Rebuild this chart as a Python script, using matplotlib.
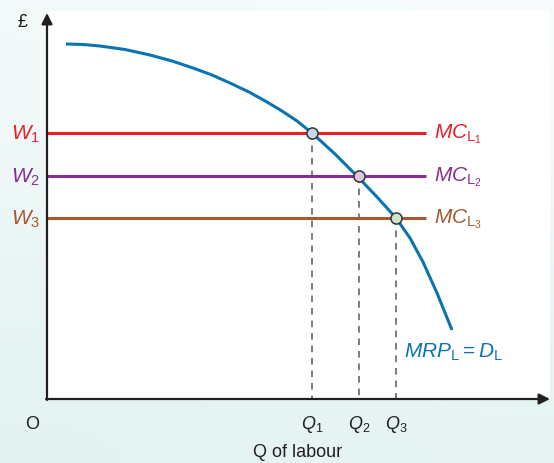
import numpy as np
import matplotlib
matplotlib.use('Agg')
from matplotlib import pyplot as plt

plt.rcParams['font.family'] = 'Liberation Sans'
plt.rcParams['mathtext.fontset'] = 'custom'
plt.rcParams['mathtext.it'] = 'Liberation Sans:italic'
plt.rcParams['mathtext.rm'] = 'Liberation Sans'

# MRP_L curve (x = labour, y = £)
curve_x = [19, 36, 53, 78, 103, 125, 146, 165, 183, 202, 220, 235, 250, 265, 288, 310, 330, 349, 363, 376, 390, 405]
curve_y = [355, 354.5, 353, 349.5, 344, 338, 331, 324, 316, 307, 297, 288, 278, 266, 245, 223, 202, 181, 161, 137, 106, 69]

wages = [266, 223, 181]
quantities = [265, 312, 349]
wage_labels = [r'$W_{\mathrm{1}}$', r'$W_{\mathrm{2}}$', r'$W_{\mathrm{3}}$']
mc_labels = [r'$MC_{\mathrm{L}_{\mathrm{1}}}$', r'$MC_{\mathrm{L}_{\mathrm{2}}}$',
             r'$MC_{\mathrm{L}_{\mathrm{3}}}$']
q_labels = [r'$Q_{\mathrm{1}}$', r'$Q_{\mathrm{2}}$', r'$Q_{\mathrm{3}}$']
mc_end = 379

line_cols = ['#e8202a', '#8c2d91', '#a65a2e']
dot_cols = ['#c6d7ea', '#dbc8e0', '#cbe5cf']
blue = '#0a74b0'

fig = plt.figure(figsize=(5.54, 4.64), dpi=100)

# pale mint background
bg = fig.add_axes([0, 0, 1, 1], zorder=-5)
grad = np.array([[[0.955, 0.982, 0.982], [0.975, 0.99, 0.99]],
                 [[0.89, 0.95, 0.945], [0.90, 0.955, 0.95]]])
bg.imshow(grad, aspect='auto', interpolation='bicubic', extent=[0, 1, 0, 1])
bg.axis('off')

ax = fig.add_axes([47/554, 64/464, 503/554, 388/464])
ax.set_facecolor('white')
ax.set_xlim(0, 503)
ax.set_ylim(0, 388)
for s in ax.spines.values():
    s.set_visible(False)
ax.set_xticks([])
ax.set_yticks([])

# axes with arrows
ax.annotate('', xy=(0, 386), xytext=(0, -1), annotation_clip=False,
            arrowprops=dict(arrowstyle='-|>', lw=1.6, color='#231f20', mutation_scale=16, shrinkA=0, shrinkB=0))
ax.annotate('', xy=(503, 0), xytext=(-1, 0), annotation_clip=False,
            arrowprops=dict(arrowstyle='-|>', lw=1.6, color='#231f20', mutation_scale=16, shrinkA=0, shrinkB=0))

for w, q, wl, ml, ql, c in zip(wages, quantities, wage_labels, mc_labels, q_labels, line_cols):
    ax.plot([0, mc_end], [w, w], color=c, lw=2.2, solid_capstyle='butt', zorder=2)
    ax.plot([q, q], [w, 0], color='#666666', lw=1.2, ls=(0, (4, 3.5)), zorder=1)
    ax.text(-7, w, wl, color=c, fontsize=15, ha='right', va='center')
    ax.text(mc_end + 8, w, ml, color=c, fontsize=15, ha='left', va='center')
    ax.text(q, -25, ql, color='#231f20', fontsize=13, ha='center', va='center')

ax.plot(curve_x, curve_y, color=blue, lw=2.2, zorder=3, solid_capstyle='butt', solid_joinstyle='round')

for w, q, dc in zip(wages, quantities, dot_cols):
    ax.plot(q, w, 'o', ms=8, mfc=dc, mec='#333333', mew=1.1, zorder=4)

ax.text(357, 48, r'$MRP_{\mathrm{L}} = D_{\mathrm{L}}$', color=blue, fontsize=15, ha='left', va='center')
ax.text(-15, -25, 'O', color='#231f20', fontsize=13, ha='center', va='center')
ax.text(251, -53, 'Q of labour', color='#231f20', fontsize=13, ha='center', va='center')
ax.text(-25, 378, '£', color='#231f20', fontsize=13, ha='center', va='center')

fig.savefig('out.png', dpi=100)
